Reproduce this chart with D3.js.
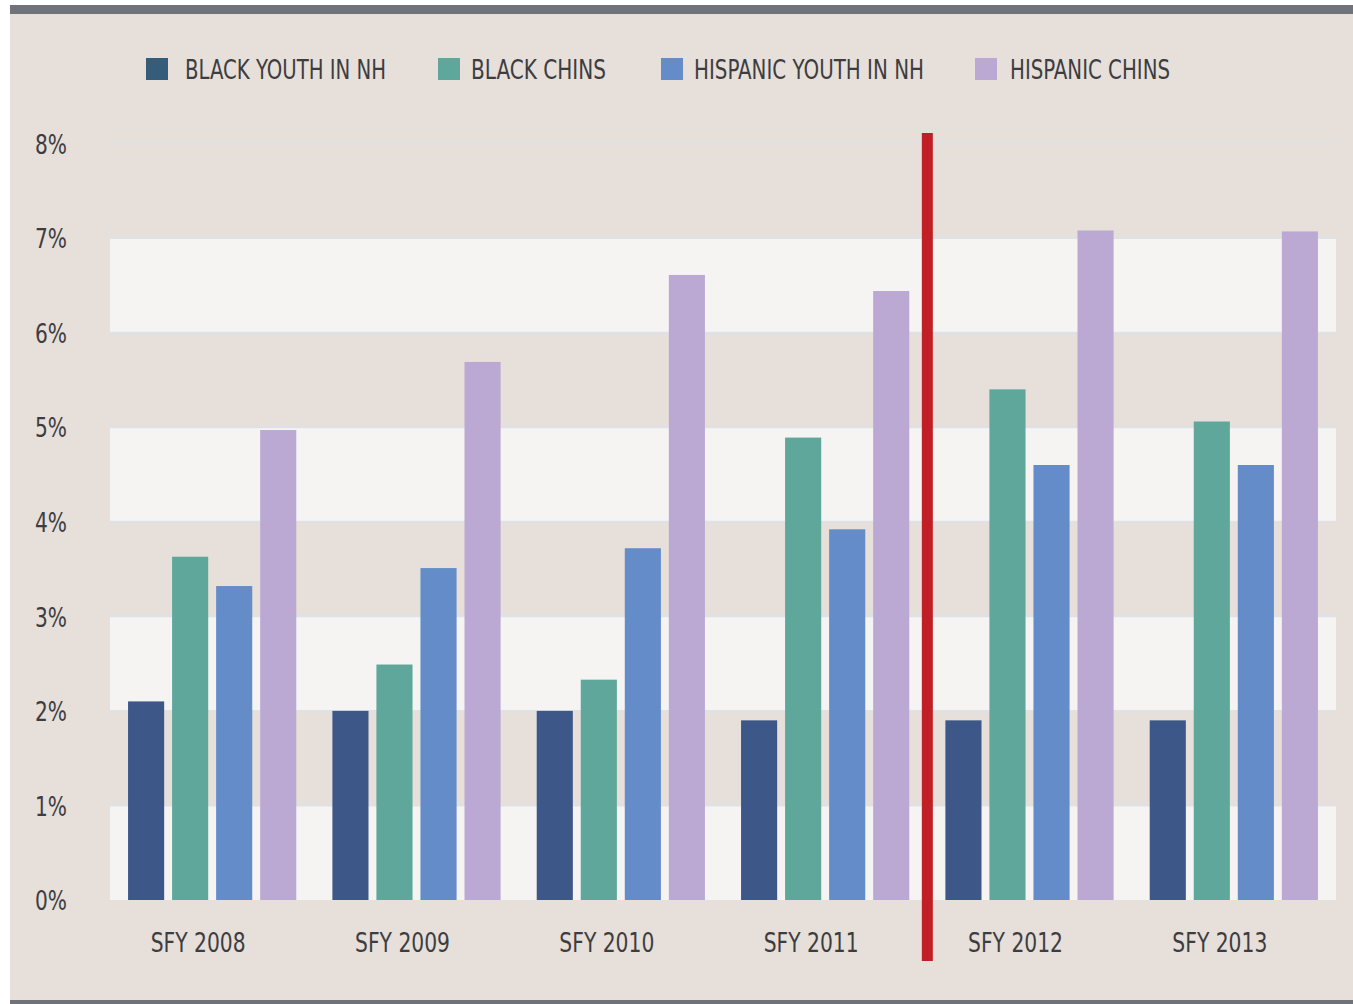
<!DOCTYPE html>
<html>
<head>
<meta charset="utf-8">
<script src="https://cdn.jsdelivr.net/npm/d3@7"></script>
<style>
  body { margin: 0; background: #ffffff; }
  svg { display: block; }
  text { font-family: "Liberation Sans Narrow", "DejaVu Sans Condensed", "DejaVu Sans", sans-serif; font-stretch: condensed; fill: #3d3d3f; }
</style>
</head>
<body>
<svg id="chart"></svg>
<script>
const width = 1353;
const height = 1004;

const years = ["SFY 2008", "SFY 2009", "SFY 2010", "SFY 2011", "SFY 2012", "SFY 2013"];
const seriesNames = ["BLACK YOUTH IN NH", "BLACK CHINS", "HISPANIC YOUTH IN NH", "HISPANIC CHINS"];
const blackYouth = [2.1, 2.0, 2.0, 1.9, 1.9, 1.9];
const blackChins = [3.63, 2.49, 2.33, 4.89, 5.4, 5.06];
const hispanicYouth = [3.32, 3.51, 3.72, 3.92, 4.6, 4.6];
const hispanicChins = [4.97, 5.69, 6.61, 6.44, 7.08, 7.07];
const yTicks = [0, 1, 2, 3, 4, 5, 6, 7, 8];
const splitAfter = "SFY 2011";

const barColors = ["#3c5788", "#5ea79a", "#648cc8", "#bba9d3"];
const swatchColors = ["#355c78", "#5ea79a", "#648cc8", "#bba9d3"];

const seriesValues = [blackYouth, blackChins, hispanicYouth, hispanicChins];
const rows = years.map((yr, i) => ({
  year: yr,
  values: seriesNames.map((s, j) => ({ key: s, value: seriesValues[j][i] }))
}));

const svg = d3.select("#chart").attr("width", width).attr("height", height);

// backdrop
svg.append("rect").attr("x", 10).attr("y", 5).attr("width", width - 10).attr("height", height - 5).attr("fill", "#e6dfda");
svg.append("rect").attr("x", 10).attr("y", 5).attr("width", width - 10).attr("height", 9).attr("fill", "#70737a");
svg.append("rect").attr("x", 10).attr("y", 1000).attr("width", width - 10).attr("height", 4).attr("fill", "#6f7278");

const plot = { left: 110, right: 1336, top: 143.5, bottom: 900 };

const x0 = d3.scaleBand()
  .domain(years)
  .range([plot.left, plot.right])
  .paddingInner(0)
  .paddingOuter(0);

const x1 = d3.scaleBand()
  .domain(seriesNames)
  .range([0, x0.bandwidth()])
  .paddingInner(0.18)
  .paddingOuter(0.41);

const y = d3.scaleLinear()
  .domain([0, 8])
  .range([plot.bottom, plot.top]);

// alternating bands
const grid = svg.append("g");
grid.selectAll("rect.band")
  .data(yTicks.slice(0, -1).filter(d => d % 2 === 0))
  .join("rect")
  .attr("class", "band")
  .attr("x", plot.left)
  .attr("width", plot.right - plot.left)
  .attr("y", d => y(d + 1))
  .attr("height", d => y(d) - y(d + 1))
  .attr("fill", "#f5f4f2");

grid.selectAll("line")
  .data(yTicks.filter(d => d > 0))
  .join("line")
  .attr("x1", plot.left)
  .attr("x2", plot.right)
  .attr("y1", d => y(d))
  .attr("y2", d => y(d))
  .attr("stroke", "#dde1e8")
  .attr("stroke-width", 2);

// y axis labels
const yAxis = d3.axisLeft(y).tickValues(yTicks).tickFormat(d => d + "%").tickSize(0).tickPadding(0);
const yg = svg.append("g").attr("transform", "translate(67,0)").call(yAxis);
yg.select(".domain").remove();
yg.selectAll("text")
  .attr("font-size", 27)
  .attr("font-family", null)
  .attr("fill", "#3d3d3f")
  .attr("dy", "0.36em")
  .attr("textLength", 32)
  .attr("lengthAdjust", "spacingAndGlyphs");

// bars
const groups = svg.append("g")
  .selectAll("g")
  .data(rows)
  .join("g")
  .attr("transform", d => `translate(${x0(d.year)},0)`);

groups.selectAll("rect")
  .data(d => d.values)
  .join("rect")
  .attr("x", d => x1(d.key))
  .attr("width", x1.bandwidth())
  .attr("y", d => y(d.value))
  .attr("height", d => y(0) - y(d.value))
  .attr("fill", (d, i) => barColors[i]);

// x labels
const xAxis = d3.axisBottom(x0).tickSize(0).tickPadding(0);
const xg = svg.append("g").attr("transform", "translate(-14,952)").call(xAxis);
xg.select(".domain").remove();
xg.selectAll("text")
  .attr("font-size", 27)
  .attr("font-family", null)
  .attr("fill", "#3d3d3f")
  .attr("dy", 0)
  .attr("textLength", 95)
  .attr("lengthAdjust", "spacingAndGlyphs");

// split marker
const splitX = x0(splitAfter) + x0.bandwidth();
svg.append("rect")
  .attr("x", splitX - 5.5)
  .attr("y", 133)
  .attr("width", 11)
  .attr("height", 828)
  .attr("fill", "#c11f26");

// legend
const legendX = [146, 438, 661, 975];
const legendTextX = [39, 33, 33, 35];
const legendTextW = [201, 135, 230, 160];
const legend = svg.append("g")
  .selectAll("g")
  .data(seriesNames)
  .join("g")
  .attr("transform", (d, i) => `translate(${legendX[i]},58)`);

legend.append("rect")
  .attr("width", 22)
  .attr("height", 22)
  .attr("fill", (d, i) => swatchColors[i]);

legend.append("text")
  .attr("x", (d, i) => legendTextX[i])
  .attr("y", 21)
  .attr("font-size", 27)
  .attr("textLength", (d, i) => legendTextW[i])
  .attr("lengthAdjust", "spacingAndGlyphs")
  .text(d => d);
</script>
</body>
</html>
